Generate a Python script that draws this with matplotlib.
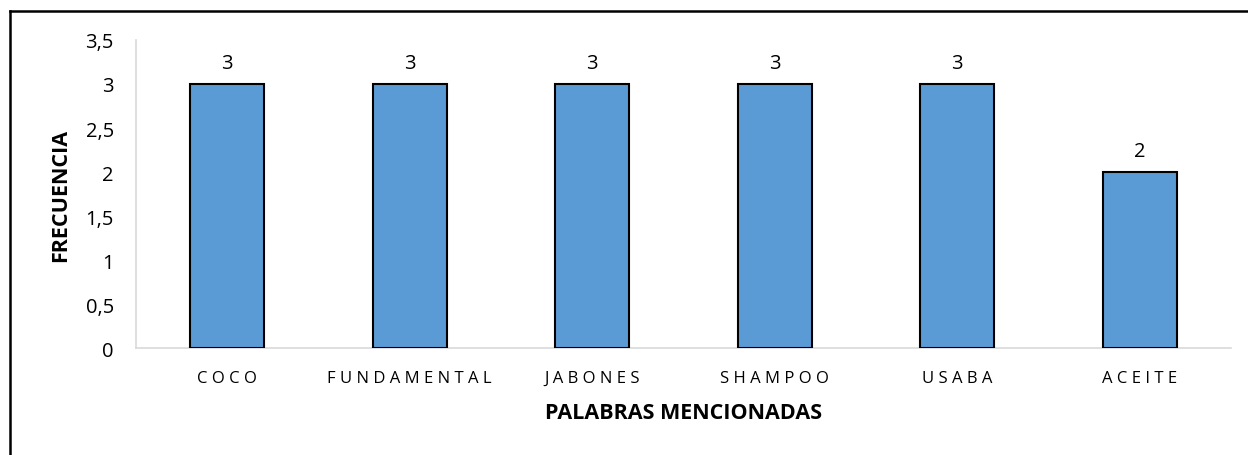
import matplotlib.pyplot as plt
from matplotlib.lines import Line2D

# Datos del grafico
palabras = ["COCO", "FUNDAMENTAL", "JABONES", "SHAMPOO", "USABA", "ACEITE"]
frecuencia = [3, 3, 3, 3, 3, 2]
y_ticks = [0, 0.5, 1, 1.5, 2, 2.5, 3, 3.5]
y_tick_labels = ["0", "0,5", "1", "1,5", "2", "2,5", "3", "3,5"]

plt.rcParams['font.family'] = ['Open Sans', 'DejaVu Sans']

fig = plt.figure(figsize=(12.48, 4.56), dpi=100)
ax = fig.add_axes([0.109, 0.2346, 0.8774, 0.6755])

x = range(len(palabras))
ax.bar(x, frecuencia, width=0.405, color="#5b9bd5", edgecolor="black", linewidth=1.5, zorder=3)

for i, v in zip(x, frecuencia):
    ax.text(i, v + 0.13, str(v), ha="center", va="bottom", fontsize=14.5, color="black")

ax.set_xlim(-0.5, len(palabras) - 0.5)
ax.set_ylim(0, 3.5)
ax.set_yticks(y_ticks)
ax.set_yticklabels(y_tick_labels, fontsize=14.5)
ax.set_xticks(list(x))
ax.set_xticklabels([" ".join(p) for p in palabras], fontsize=12)
ax.tick_params(axis="both", length=0)
ax.tick_params(axis="y", pad=16)
ax.tick_params(axis="x", pad=16)

for s in ["top", "right"]:
    ax.spines[s].set_visible(False)
for s in ["left", "bottom"]:
    ax.spines[s].set_color("#d9d9d9")
    ax.spines[s].set_linewidth(1.2)

ax.set_xlabel("PALABRAS MENCIONADAS", fontsize=15.5, fontweight="bold", labelpad=11)
ax.set_ylabel("FRECUENCIA", fontsize=15.5, fontweight="bold", labelpad=10)

# borde del cuadro (solo arriba e izquierda visibles)
fig.add_artist(Line2D([10 / 1248, 1], [1 - 12 / 456, 1 - 12 / 456], color="black", linewidth=1.8, transform=fig.transFigure))
fig.add_artist(Line2D([10 / 1248, 10 / 1248], [0, 1 - 12 / 456], color="black", linewidth=1.8, transform=fig.transFigure))

plt.savefig("out.png", dpi=100)
